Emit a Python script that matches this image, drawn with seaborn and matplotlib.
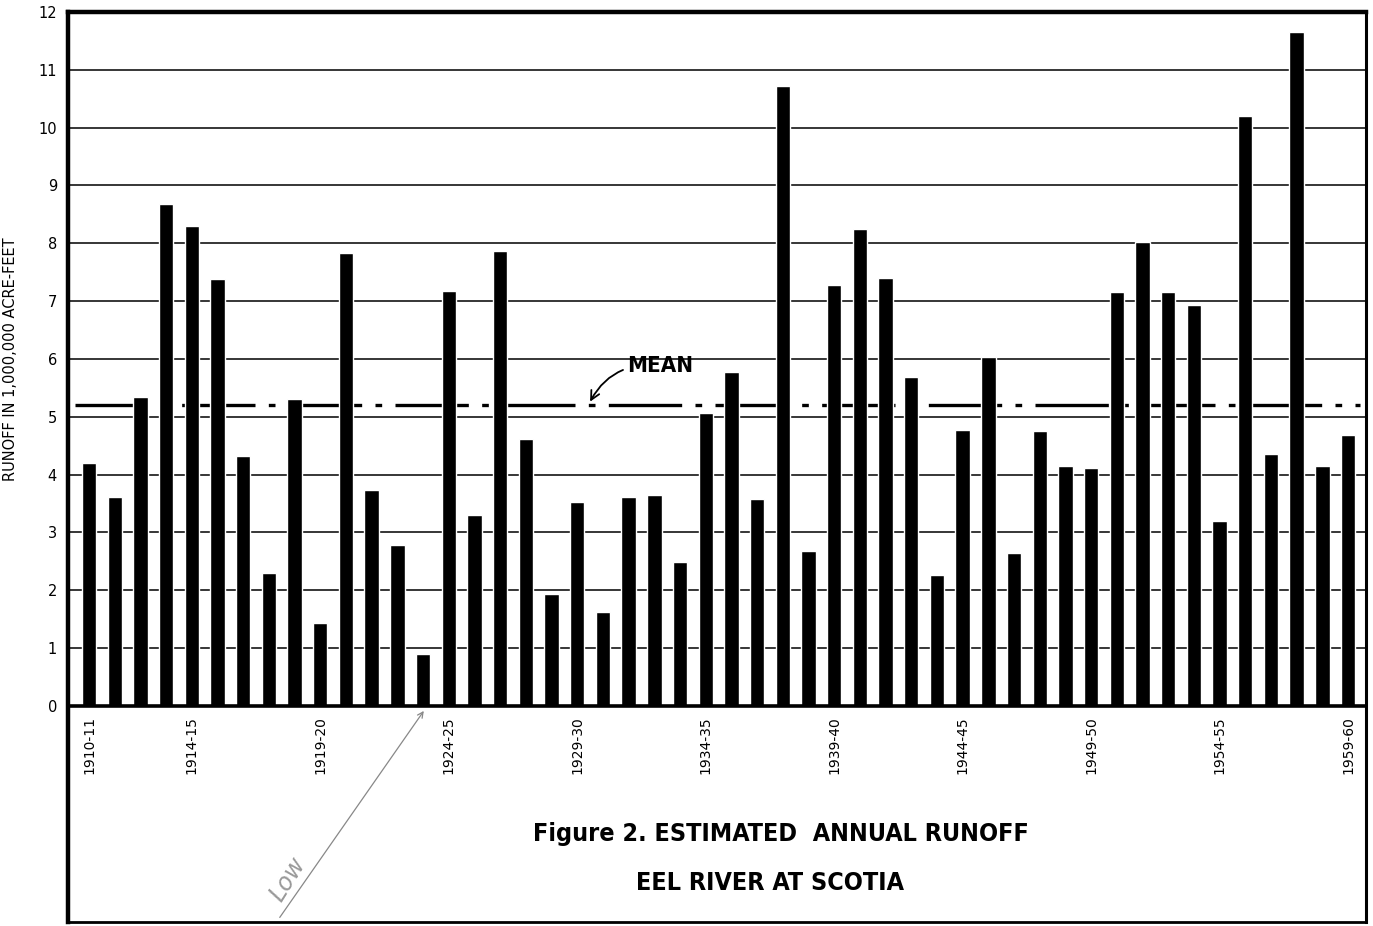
import numpy as np
import pandas as pd
import matplotlib
matplotlib.use("Agg")
import matplotlib.pyplot as plt
import seaborn as sns

# water years 1910-11 .. 1959-60
start_years = list(range(1910, 1960))
years = [f"{y}-{str(y + 1)[-2:]}" for y in start_years]

# annual runoff, million acre-feet
runoff = [4.20, 3.61, 5.34, 8.68, 8.29, 7.38, 4.32, 2.29, 5.31, 1.44,
          7.83, 3.73, 2.78, 0.90, 7.17, 3.30, 7.86, 4.62, 1.93, 3.52,
          1.62, 3.61, 3.65, 2.49, 5.07, 5.77, 3.57, 10.72, 2.68, 7.28,
          8.25, 7.40, 5.69, 2.26, 4.77, 6.04, 2.64, 4.75, 4.15, 4.12,
          7.15, 8.03, 7.16, 6.94, 3.20, 10.20, 4.36, 11.65, 4.14, 4.69]

mean_runoff = 5.20
label_years = ["1910-11", "1914-15", "1919-20", "1924-25", "1929-30",
               "1934-35", "1939-40", "1944-45", "1949-50", "1954-55", "1959-60"]
y_ticks = list(range(0, 13))

df = pd.DataFrame({"year": years, "runoff": runoff})

sns.set_style("white")
plt.rcParams['font.family'] = ['DejaVu Sans']
plt.rcParams['text.color'] = 'black'
plt.rcParams['axes.labelcolor'] = 'black'
plt.rcParams['ytick.color'] = 'black'
plt.rcParams['xtick.color'] = 'black'

fig = plt.figure(figsize=(13.73, 9.26), dpi=100)
ax = fig.add_axes([68 / 1373, 4 / 926, 1298 / 1373, 910 / 926])

sns.barplot(data=df, x="year", y="runoff", color="black", width=0.56,
            saturation=1, ax=ax, zorder=3)

ax.set_xlim(-0.82, 49.7)
ax.set_ylim(-3.74, 12)

# horizontal grid lines 1..11, heavier base line at 0
for v in y_ticks[1:-1]:
    ax.axhline(v, color="black", lw=1.1, zorder=1)
ax.axhline(0, color="black", lw=2.6, zorder=4)

# mean line
ax.plot([-0.55, 49.45], [mean_runoff, mean_runoff], color="black", lw=2.4,
        linestyle=(0, (22, 4, 2, 4)), zorder=2)
ax.annotate("MEAN", xy=(19.5, 5.26), xytext=(20.96, 5.87),
            fontsize=16, fontweight="bold", va="center", ha="left",
            fontstretch="condensed",
            arrowprops=dict(arrowstyle="->", color="black", lw=1.3,
                            connectionstyle="arc3,rad=0.35",
                            shrinkA=1, shrinkB=0))

# y axis
ax.set_yticks(y_ticks)
ax.set_yticklabels([str(t) for t in y_ticks], fontsize=10.5)
ax.tick_params(axis="y", length=0, pad=8)
ax.set_ylabel("RUNOFF IN 1,000,000 ACRE-FEET", fontsize=10.5)
ax.yaxis.set_label_coords(-0.0385, 0.618)

# x labels drawn inside the frame under the base line
ax.set_xticks([])
ax.set_xlabel("")
for lab in label_years:
    ax.text(years.index(lab), -0.18, lab, rotation=90, ha="center", va="top",
            fontsize=10)

# frame
for side, w in [("top", 3.2), ("left", 3.2), ("right", 2.2), ("bottom", 2.0)]:
    ax.spines[side].set_linewidth(w)
    ax.spines[side].set_color("black")

# caption
fig.text(0.569, 0.0994, "Figure 2. ESTIMATED  ANNUAL RUNOFF", ha="center",
         va="center", fontsize=18, fontweight="bold", fontstretch="condensed")
fig.text(0.561, 0.0464, "EEL RIVER AT SCOTIA", ha="center", va="center",
         fontsize=18, fontweight="bold", fontstretch="condensed")

# handwritten note
ax.annotate("", xy=(13.09, -0.05), xytext=(7.36, -3.7),
            arrowprops=dict(arrowstyle="->", color="#888888", lw=0.9))
ax.text(7.75, -3.0, "Low", rotation=58, fontsize=17, color="#999999",
        style="italic", ha="center", va="center")

fig.savefig("out.png", dpi=100)
